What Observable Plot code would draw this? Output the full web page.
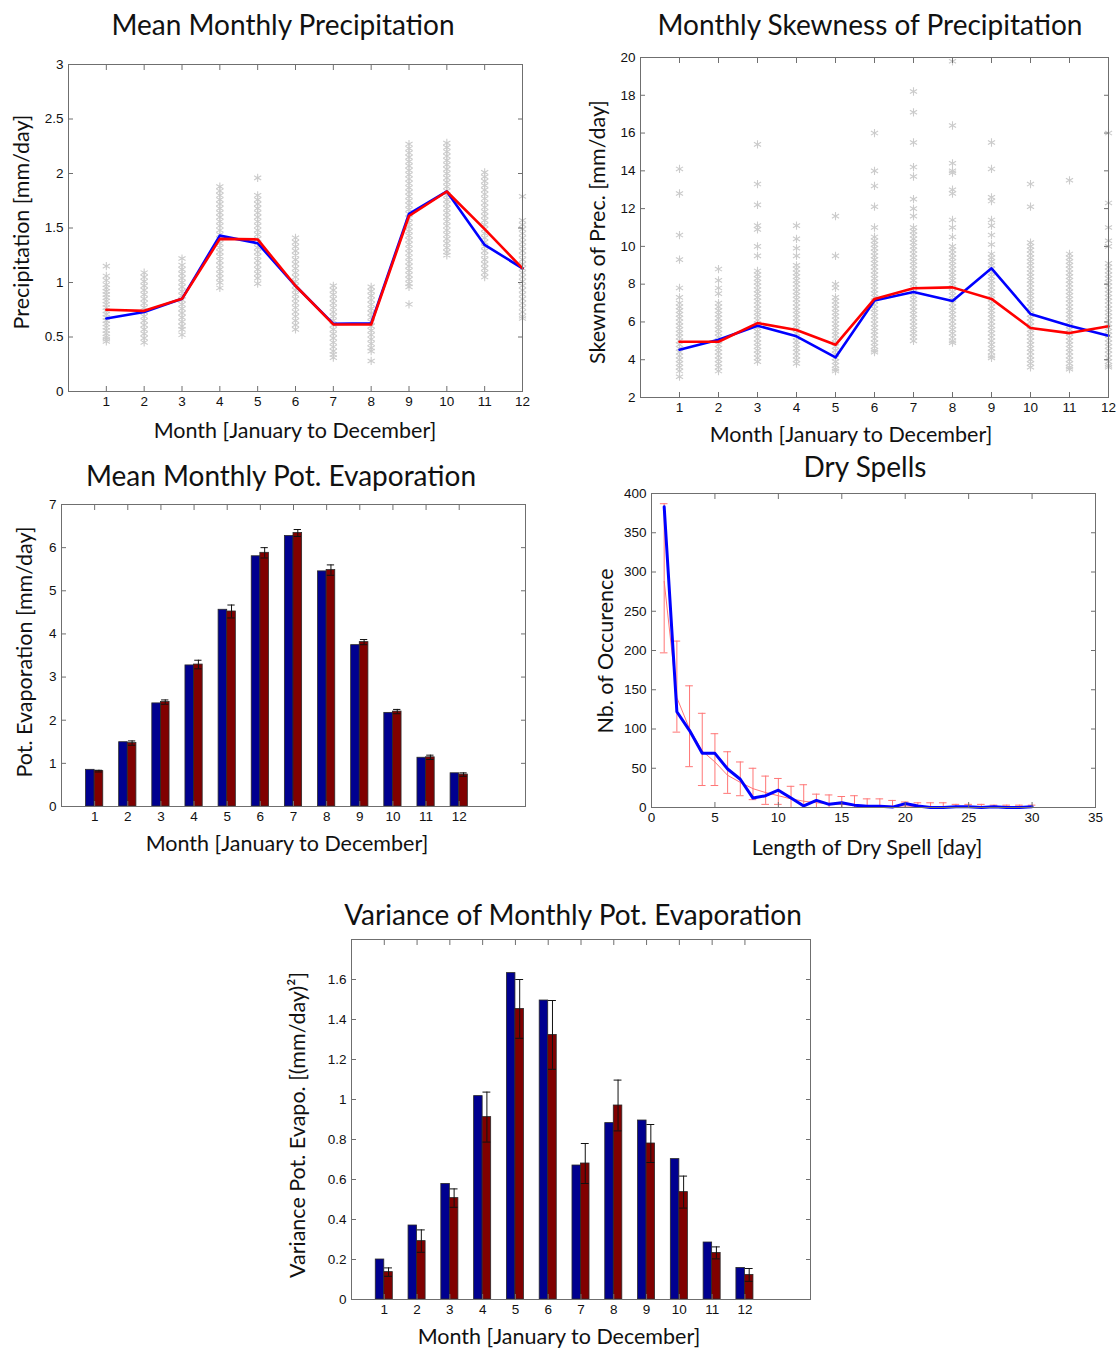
<!DOCTYPE html>
<html><head><meta charset="utf-8">
<script src="https://cdn.jsdelivr.net/npm/d3@7"></script>
<script src="https://cdn.jsdelivr.net/npm/@observablehq/plot@0.6"></script>
<style>
body{margin:0;background:#fff;}
#root{position:relative;width:1118px;height:1349px;overflow:hidden;font-family:Lato, "Open Sans", sans-serif;background:#fff;}
.t{position:absolute;transform:translate(-50%,-50%);white-space:nowrap;color:#111;line-height:1;}
.title{font-size:28px;}
.xl{font-size:21.5px;}
.yl{font-size:21.5px;transform:translate(-50%,-50%) rotate(-90deg);}
.p{position:absolute;}
</style></head><body><div id="root"></div>
<script>
// ---------- DATA ----------
const months = [1,2,3,4,5,6,7,8,9,10,11,12];

// Panel 1: Mean Monthly Precipitation [mm/day]
const precObserved  = [0.67,0.73,0.85,1.43,1.36,0.97,0.62,0.625,1.63,1.835,1.345,1.13];
const precSimMean   = [0.75,0.74,0.85,1.40,1.395,0.97,0.615,0.615,1.61,1.835,1.49,1.13];
const precRealizations = [
  [1.15,1.06,1.02,0.98,0.95,0.92,0.89,0.86,0.83,0.80,0.77,0.74,0.71,0.68,0.65,0.62,0.59,0.56,0.53,0.50,0.48,0.46],
  [1.09,1.05,1.01,0.97,0.93,0.89,0.85,0.81,0.77,0.73,0.69,0.65,0.61,0.57,0.53,0.49,0.45],
  [1.22,1.16,1.12,1.08,1.04,1.00,0.96,0.92,0.88,0.84,0.80,0.76,0.72,0.68,0.64,0.60,0.57,0.52],
  [1.88,1.84,1.80,1.76,1.72,1.68,1.64,1.60,1.56,1.52,1.48,1.44,1.40,1.36,1.32,1.28,1.24,1.20,1.16,1.12,1.08,1.04,1.00,0.95],
  [1.96,1.80,1.76,1.72,1.68,1.64,1.60,1.56,1.52,1.48,1.44,1.40,1.36,1.32,1.28,1.24,1.20,1.16,1.12,1.08,1.04,0.99],
  [1.41,1.37,1.33,1.29,1.25,1.21,1.17,1.13,1.09,1.05,1.01,0.97,0.93,0.89,0.85,0.81,0.77,0.73,0.69,0.65,0.61,0.57],
  [0.97,0.93,0.89,0.85,0.81,0.77,0.73,0.69,0.65,0.61,0.57,0.53,0.49,0.45,0.41,0.37,0.34,0.31],
  [0.96,0.92,0.88,0.84,0.80,0.76,0.72,0.68,0.64,0.60,0.56,0.52,0.48,0.44,0.40,0.37,0.28],
  [2.27,2.23,2.19,2.15,2.11,2.07,2.03,1.99,1.95,1.91,1.87,1.83,1.79,1.75,1.71,1.67,1.63,1.59,1.55,1.51,1.47,1.43,1.39,1.35,1.31,1.27,1.23,1.19,1.15,1.11,1.07,1.03,0.99,0.96,0.80],
  [2.28,2.24,2.20,2.16,2.12,2.08,2.04,2.00,1.96,1.92,1.88,1.84,1.80,1.76,1.72,1.68,1.64,1.60,1.56,1.52,1.48,1.44,1.40,1.36,1.32,1.28,1.25],
  [2.01,1.97,1.93,1.89,1.85,1.81,1.77,1.73,1.69,1.65,1.61,1.57,1.53,1.49,1.45,1.41,1.37,1.33,1.29,1.25,1.21,1.17,1.13,1.09,1.05],
  [1.79,1.57,1.53,1.49,1.45,1.41,1.37,1.33,1.29,1.25,1.21,1.17,1.13,1.09,1.05,1.01,0.97,0.93,0.89,0.85,0.81,0.77,0.73,0.69,0.67]
];
const precYTicks = [0,0.5,1,1.5,2,2.5,3];

// Panel 2: Monthly Skewness of Precipitation
const skewObserved = [4.53,5.06,5.80,5.24,4.12,7.13,7.59,7.11,8.84,6.42,5.80,5.27];
const skewSimMean  = [4.95,4.95,5.94,5.57,4.79,7.22,7.78,7.83,7.22,5.68,5.41,5.77];
const skewRealizations = [
  [14.1,12.8,10.6,9.3,7.8,7.3,7.0,6.8,6.6,6.4,6.2,6.0,5.8,5.6,5.4,5.2,5.0,4.8,4.6,4.4,4.2,4.0,3.8,3.6,3.4,3.1],
  [8.8,8.2,7.8,7.5,7.0,6.8,6.6,6.4,6.2,6.0,5.8,5.6,5.4,5.2,5.0,4.8,4.6,4.4,4.2,4.0,3.8,3.6,3.4],
  [15.4,13.3,12.2,11.1,10.9,10.0,9.5,8.7,8.5,8.3,8.1,7.9,7.7,7.5,7.3,7.1,6.9,6.7,6.5,6.3,6.1,5.9,5.7,5.5,5.3,5.1,4.9,4.7,4.5,4.3,4.1,3.9],
  [11.1,10.4,9.9,9.5,9.0,8.8,8.6,8.4,8.2,8.0,7.8,7.6,7.4,7.2,7.0,6.8,6.6,6.4,6.2,6.0,5.8,5.6,5.4,5.2,5.0,4.8,4.6,4.4,4.2,4.0,3.8],
  [11.6,9.5,8.0,7.8,7.3,7.1,6.9,6.7,6.5,6.3,6.1,5.9,5.7,5.5,5.3,5.1,4.9,4.7,4.5,4.3,4.1,3.9,3.7,3.5,3.4],
  [16.0,14.0,13.2,12.1,11.0,10.5,10.3,10.1,9.9,9.7,9.5,9.3,9.1,8.9,8.7,8.5,8.3,8.1,7.9,7.7,7.5,7.3,7.1,6.9,6.7,6.5,6.3,6.1,5.9,5.7,5.5,5.3,5.1,4.9,4.7,4.5,4.4],
  [18.2,17.1,15.5,14.2,13.7,12.5,12.0,11.6,11.0,10.8,10.6,10.4,10.2,10.0,9.8,9.6,9.4,9.2,9.0,8.8,8.6,8.4,8.2,8.0,7.8,7.6,7.4,7.2,7.0,6.8,6.6,6.4,6.2,6.0,5.8,5.6,5.4,5.2,5.0],
  [19.8,16.4,14.4,14.0,13.9,13.0,12.8,11.4,11.0,10.5,10.0,9.8,9.6,9.4,9.2,9.0,8.8,8.6,8.4,8.2,8.0,7.8,7.6,7.4,7.2,7.0,6.8,6.6,6.4,6.2,6.0,5.8,5.6,5.4,5.2,5.0,4.9],
  [15.5,14.1,12.6,12.4,11.4,11.1,10.6,10.1,9.6,9.4,9.2,9.0,8.8,8.6,8.4,8.2,8.0,7.8,7.6,7.4,7.2,7.0,6.8,6.6,6.4,6.2,6.0,5.8,5.6,5.4,5.2,5.0,4.8,4.6,4.4,4.2,4.1],
  [13.3,12.1,10.2,10.0,9.8,9.6,9.4,9.2,9.0,8.8,8.6,8.4,8.2,8.0,7.8,7.6,7.4,7.2,7.0,6.8,6.6,6.4,6.2,6.0,5.8,5.6,5.4,5.2,5.0,4.8,4.6,4.4,4.2,4.0,3.8,3.6],
  [13.5,9.6,9.4,9.2,9.0,8.8,8.6,8.4,8.2,8.0,7.8,7.6,7.4,7.2,7.0,6.8,6.6,6.4,6.2,6.0,5.8,5.6,5.4,5.2,5.0,4.8,4.6,4.4,4.2,4.0,3.8,3.6,3.5],
  [16.0,12.3,11.0,10.3,10.0,9.1,8.9,8.7,8.5,8.3,8.1,7.9,7.7,7.5,7.3,7.1,6.9,6.7,6.5,6.3,6.1,5.9,5.7,5.5,5.3,5.1,4.9,4.7,4.5,4.3,4.1,3.9,3.7,3.6]
];
const skewYTicks = [2,4,6,8,10,12,14,16,18,20];

// Panel 3: Mean Monthly Pot. Evaporation [mm/day]
const evapObserved = [0.85,1.49,2.39,3.27,4.56,5.80,6.27,5.45,3.74,2.17,1.13,0.77];
const evapSimMean  = [0.82,1.47,2.42,3.29,4.52,5.88,6.34,5.48,3.81,2.20,1.14,0.74];
const evapSimErr   = [0.02,0.05,0.05,0.10,0.15,0.12,0.08,0.12,0.06,0.05,0.05,0.04];
const evapYTicks = [0,1,2,3,4,5,6,7];

// Panel 4: Dry Spells
const spellLength = [1,2,3,4,5,6,7,8,9,10,11,12,13,14,15,16,17,18,19,20,21,22,23,24,25,26,27,28,29,30];
const spellObserved = [383,122,98,69,69,49,36,12,15,22,12,2,9,4,6,3,1.5,1.5,0.5,5,2,0,0,1,1,0,1,0,0,1];
const spellSimMean  = [288,140,100,72,58,41,32,24,19,15,11,8,6,5,4,3,2.5,2,1.5,2,1,1,1,0.5,0.5,0.5,0.5,0.3,0.3,0.3];
const spellSimLow   = [197,96,52,28,28,18,15,10,4,4,0,0,0,0,0,0,0,0,0,0,0,0,0,0,0,0,0,0,0,0];
const spellSimHigh  = [387,212,155,120,94,71,58,50,40,37,27,29,17,16,14,15,11,11,9,7,6,6,6,4,4,4,3,3,3,3];
const spellXTicks = [0,5,10,15,20,25,30,35];
const spellYTicks = [0,50,100,150,200,250,300,350,400];

// Panel 5: Variance of Monthly Pot. Evaporation [(mm/day)^2]
const varObserved = [0.20,0.37,0.578,1.017,1.632,1.495,0.67,0.882,0.895,0.702,0.285,0.158];
const varSimMean  = [0.137,0.292,0.507,0.912,1.453,1.323,0.68,0.97,0.78,0.537,0.233,0.123];
const varSimErr   = [0.021,0.056,0.046,0.125,0.147,0.172,0.10,0.127,0.095,0.08,0.03,0.032];
const varYTicks = [0,0.2,0.4,0.6,0.8,1,1.2,1.4,1.6];

// ---------- RENDER ----------
const root = document.getElementById("root");
const FRAME = "#6f6f6f";
const BLUE_BAR = "#00008f", RED_BAR = "#800000";
const fmt = d => String(d);

function addText(cls, txt, x, y) {
  const d = document.createElement("div");
  d.className = "t " + cls; d.textContent = txt;
  d.style.left = x + "px"; d.style.top = y + "px";
  root.appendChild(d);
}

function panel({L, T, R, B, xDomain, yDomain, xTicks, yTicks, marks}) {
  const ml = 50, mr = 20, mt = 12, mb = 30;
  const svg = Plot.plot({
    width: R - L + ml + mr, height: B - T + mt + mb,
    marginLeft: ml, marginRight: mr, marginTop: mt, marginBottom: mb,
    x: {domain: xDomain}, y: {domain: yDomain},
    style: {fontFamily: "'Liberation Sans', Arial, sans-serif", fontSize: "13.5px", color: "#111", background: "transparent", overflow: "visible"},
    marks: [
      ...marks,
      Plot.frame({stroke: FRAME}),
      Plot.axisX(xTicks, {anchor: "bottom", tickSize: 5, dy: -5, fill: "none", stroke: FRAME, label: null}),
      Plot.axisX(xTicks, {anchor: "top", tickSize: 5, dy: 5, fill: "none", stroke: FRAME, label: null}),
      Plot.axisX(xTicks, {anchor: "bottom", tickSize: 0, tickPadding: 5, label: null, fill: "#111", tickFormat: fmt}),
      Plot.axisY(yTicks, {anchor: "left", tickSize: 5, dx: 5, fill: "none", stroke: FRAME, label: null}),
      Plot.axisY(yTicks, {anchor: "right", tickSize: 5, dx: -5, fill: "none", stroke: FRAME, label: null}),
      Plot.axisY(yTicks, {anchor: "left", tickSize: 0, tickPadding: 5, label: null, fill: "#111", tickFormat: fmt})
    ]
  });
  svg.classList.add("p");
  svg.style.left = (L - ml) + "px";
  svg.style.top = (T - mt) + "px";
  root.appendChild(svg);
}

function scatterRows(arrs) {
  const rows = [];
  arrs.forEach((vals, i) => vals.forEach(v => rows.push({m: months[i], v})));
  return rows;
}
const series = (xs, ys) => xs.map((x, i) => ({x, y: ys[i]}));
const GREY = "#cbcbcb";

// Panel 1
panel({
  L: 68, T: 64, R: 522, B: 391, xDomain: [0, 12], yDomain: [0, 3],
  xTicks: months, yTicks: precYTicks,
  marks: [
    Plot.dot(scatterRows(precRealizations), {x: "m", y: "v", symbol: "asterisk", r: 3.9, stroke: GREY, strokeWidth: 1.1}),
    Plot.line(series(months, precObserved), {x: "x", y: "y", stroke: "#0000ff", strokeWidth: 2.6}),
    Plot.line(series(months, precSimMean), {x: "x", y: "y", stroke: "#ff0000", strokeWidth: 2.6})
  ]
});
addText("title", "Mean Monthly Precipitation", 283, 24);
addText("xl", "Month [January to December]", 295, 431);
addText("yl", "Precipitation [mm/day]", 22, 222);

// Panel 2
panel({
  L: 640, T: 57, R: 1108, B: 397, xDomain: [0, 12], yDomain: [2, 20],
  xTicks: months, yTicks: skewYTicks,
  marks: [
    Plot.dot(scatterRows(skewRealizations), {x: "m", y: "v", symbol: "asterisk", r: 3.9, stroke: GREY, strokeWidth: 1.1}),
    Plot.line(series(months, skewObserved), {x: "x", y: "y", stroke: "#0000ff", strokeWidth: 2.6}),
    Plot.line(series(months, skewSimMean), {x: "x", y: "y", stroke: "#ff0000", strokeWidth: 2.6})
  ]
});
addText("title", "Monthly Skewness of Precipitation", 870, 24);
addText("xl", "Month [January to December]", 851, 435);
addText("yl", "Skewness of Prec. [mm/day]", 598, 232);

// Bar panels helper
function barMarks(obs, sim, err, capHalf) {
  const rows = months.map((m, i) => ({m, obs: obs[i], sim: sim[i], lo: sim[i] - err[i], hi: sim[i] + err[i]}));
  const W = 0.26;
  return [
    Plot.rectY(rows, {x1: d => d.m - W, x2: d => d.m, y: "obs", fill: BLUE_BAR, stroke: "#2a2a2a", strokeWidth: 0.8}),
    Plot.rectY(rows, {x1: d => d.m, x2: d => d.m + W, y: "sim", fill: RED_BAR, stroke: "#2a2a2a", strokeWidth: 0.8}),
    Plot.ruleX(rows, {x: d => d.m + W / 2, y1: "lo", y2: "hi", stroke: "#111", strokeWidth: 1}),
    Plot.ruleY(rows, {y: "hi", x1: d => d.m + W / 2 - capHalf, x2: d => d.m + W / 2 + capHalf, stroke: "#111", strokeWidth: 1}),
    Plot.ruleY(rows, {y: "lo", x1: d => d.m + W / 2 - capHalf, x2: d => d.m + W / 2 + capHalf, stroke: "#111", strokeWidth: 1})
  ];
}

// Panel 3
panel({
  L: 61, T: 504, R: 525, B: 806, xDomain: [0, 14], yDomain: [0, 7],
  xTicks: months, yTicks: evapYTicks,
  marks: barMarks(evapObserved, evapSimMean, evapSimErr, 0.11)
});
addText("title", "Mean Monthly Pot. Evaporation", 281, 475);
addText("xl", "Month [January to December]", 287, 844);
addText("yl", "Pot. Evaporation [mm/day]", 25, 652);

// Panel 4
const spellRows = spellLength.map((x, i) => ({x, obs: spellObserved[i], sim: spellSimMean[i], lo: spellSimLow[i], hi: spellSimHigh[i]}));
const PINK = "#ff7676";
panel({
  L: 651, T: 493, R: 1095, B: 807, xDomain: [0, 35], yDomain: [0, 400],
  xTicks: spellXTicks, yTicks: spellYTicks,
  marks: [
    Plot.ruleX(spellRows, {x: "x", y1: "lo", y2: "hi", stroke: PINK, strokeWidth: 1}),
    Plot.ruleY(spellRows, {y: "hi", x1: d => d.x - 0.3, x2: d => d.x + 0.3, stroke: PINK, strokeWidth: 1}),
    Plot.ruleY(spellRows, {y: "lo", x1: d => d.x - 0.3, x2: d => d.x + 0.3, stroke: PINK, strokeWidth: 1}),
    Plot.line(spellRows, {x: "x", y: "sim", stroke: PINK, strokeWidth: 1}),
    Plot.line(spellRows, {x: "x", y: "obs", stroke: "#0000ff", strokeWidth: 3})
  ]
});
addText("title", "Dry Spells", 865, 466);
addText("xl", "Length of Dry Spell [day]", 867, 848);
addText("yl", "Nb. of Occurence", 606, 651);

// Panel 5
panel({
  L: 351, T: 939, R: 810, B: 1299, xDomain: [0, 14], yDomain: [0, 1.8],
  xTicks: months, yTicks: varYTicks,
  marks: barMarks(varObserved, varSimMean, varSimErr, 0.12)
});
addText("title", "Variance of Monthly Pot. Evaporation", 573, 914);
addText("xl", "Month [January to December]", 559, 1337);
addText("yl", "Variance Pot. Evapo. [(mm/day)²]", 298, 1125);
</script>
</body></html>
